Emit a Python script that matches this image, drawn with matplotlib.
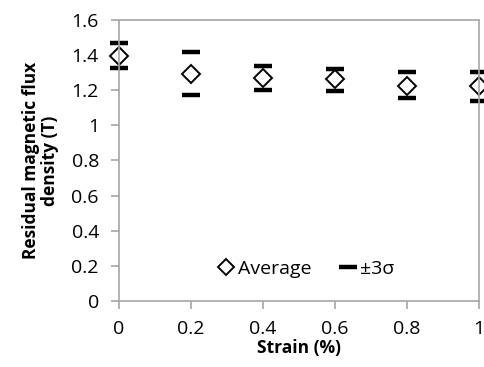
import numpy as np
import matplotlib.pyplot as plt
from matplotlib.lines import Line2D

# Datos
strain = [0, 0.2, 0.4, 0.6, 0.8, 1.0]
average = [1.395, 1.294, 1.268, 1.264, 1.226, 1.224]
upper = [1.467, 1.420, 1.336, 1.321, 1.306, 1.302]
lower = [1.329, 1.173, 1.200, 1.194, 1.156, 1.140]

plt.rcParams['font.family'] = ['Open Sans', 'DejaVu Sans']

fig = plt.figure(figsize=(4.84, 3.67), dpi=100)
ax = fig.add_axes([0.246, 0.180, 0.744, 0.7655])

ax.plot(strain, upper, linestyle='none', marker='_', markersize=13,
        markeredgewidth=3.2, color='black', clip_on=False)
ax.plot(strain, lower, linestyle='none', marker='_', markersize=13,
        markeredgewidth=3.2, color='black', clip_on=False)
ax.plot(strain, average, linestyle='none', marker='D', markersize=9.5,
        markerfacecolor='white', markeredgecolor='black',
        markeredgewidth=1.4, clip_on=False)

ax.set_xlim(0, 1)
ax.set_ylim(0, 1.6)
ax.set_xticks([0, 0.2, 0.4, 0.6, 0.8, 1])
ax.set_xticklabels(['0', '0.2', '0.4', '0.6', '0.8', '1'])
ax.set_yticks([0, 0.2, 0.4, 0.6, 0.8, 1, 1.2, 1.4, 1.6])
ax.set_yticklabels(['0', '0.2', '0.4', '0.6', '0.8', '1', '1.2', '1.4', '1.6'])

for s in ax.spines.values():
    s.set_color('#a6a6a6')
    s.set_linewidth(1.2)
ax.tick_params(axis='both', colors='#a6a6a6', labelcolor='black',
               labelsize=14, length=5.5, width=1.2, direction='out')
ax.tick_params(axis='x', pad=8)
ax.tick_params(axis='y', pad=9)

ax.set_xlabel('Strain (%)', fontsize=12.5, fontweight='bold', labelpad=1)
ax.set_ylabel('Residual magnetic flux\ndensity (T)', fontsize=12.5,
              fontweight='bold', labelpad=9, linespacing=1.05)

handles = [
    Line2D([], [], linestyle='none', marker='D', markersize=8.5,
           markerfacecolor='white', markeredgecolor='black', markeredgewidth=1.4),
    Line2D([], [], linestyle='none', marker='_', markersize=13,
           markeredgewidth=3.2, color='black'),
]
ax.legend(handles, ['Average', '±3σ'], loc='center', bbox_to_anchor=(0.52, 0.115),
          ncol=2, frameon=False, fontsize=14, handlelength=0.8,
          handletextpad=0.2, columnspacing=1.5)

fig.savefig('out.png', dpi=100)
